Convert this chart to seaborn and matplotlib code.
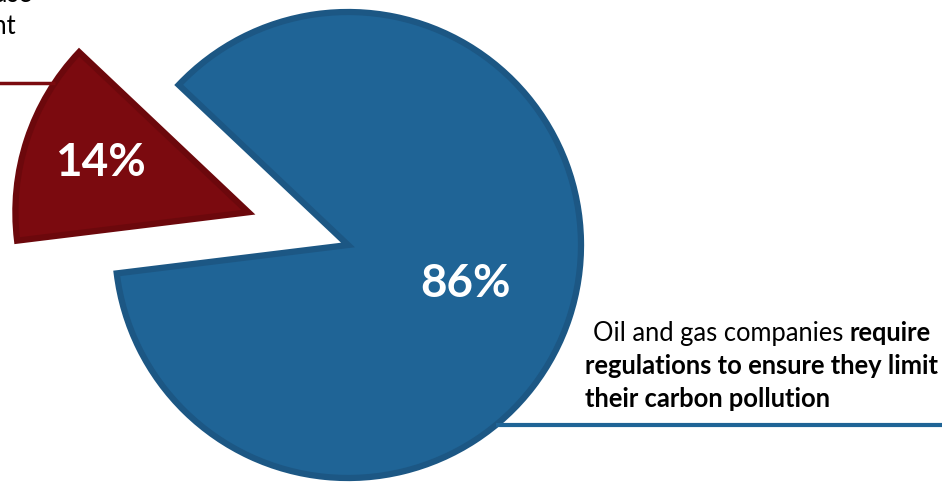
import matplotlib
matplotlib.use("Agg")
import matplotlib.pyplot as plt
import seaborn as sns
import numpy as np

# data
slices = ["Limit on their own", "Require regulations"]
shares = [14, 86]
pct_labels = ["14%", "86%"]
fills = ["#7b0a0f", "#1f6496"]
edges = ["#6c080c", "#1c5784"]

sns.set_theme(style="white")
plt.rcParams['font.family'] = ['Lato', 'DejaVu Sans']

fig = plt.figure(figsize=(9.42, 4.86), dpi=100)
ax = fig.add_axes([0, 0, 1, 1])

wedges, _ = ax.pie(shares, explode=[0.45, 0], startangle=136.6, colors=fills,
                   radius=1, counterclock=True,
                   wedgeprops=dict(linewidth=4.5))
for w, ec in zip(wedges, edges):
    w.set_edgecolor(ec)

# crop like the original graphic
ax.set_xlim(-348 / 233, (942 - 348) / 233)
ax.set_ylim(-(486 - 245) / 233, 245 / 233)
ax.set_aspect('equal')
ax.axis('off')

# percent labels
for w, txt, d in zip(wedges, pct_labels, [0.67, 0.53]):
    ang = np.deg2rad((w.theta1 + w.theta2) / 2)
    cx, cy = w.center
    ax.text(cx + d * np.cos(ang), cy + d * np.sin(ang), txt, color='white',
            fontsize=33, fontweight='bold', ha='center', va='center')

# leader lines
def edge_point(w, deg):
    cx, cy = w.center
    a = np.deg2rad(deg)
    return cx + w.r * np.cos(a), cy + w.r * np.sin(a)

bx, by = edge_point(wedges[1], -50.5)
ax.plot([bx, 3.0], [by, by], color=fills[1], lw=3, solid_capstyle='butt')
rx, ry = edge_point(wedges[0], 146.3)
ax.plot([rx, -2.0], [ry, ry], color=fills[0], lw=2.5, solid_capstyle='butt')

# right annotation, mixed weight
fs = 18.4
step = 0.142
x0, y0 = 1.052, -0.378
t1 = ax.text(x0, y0, "Oil and gas companies ", fontsize=fs, ha='left', va='center', color='black')
fig.canvas.draw()
bb = t1.get_window_extent(fig.canvas.get_renderer())
x1 = ax.transData.inverted().transform((bb.x1, bb.y0))[0]
ax.text(x1, y0, "require", fontsize=fs, fontweight='bold', ha='left', va='center', color='black')
ax.text(x0 - 0.035, y0 - step, "regulations to ensure they limit", fontsize=fs,
        fontweight='bold', ha='left', va='center', color='black')
ax.text(x0 - 0.035, y0 - 2 * step, "their carbon pollution", fontsize=fs,
        fontweight='bold', ha='left', va='center', color='black')

# left annotation (mostly outside the crop)
ax.text(-1.356, 1.073, "Oil and gas companies can limit their pollution because",
        fontsize=fs, ha='right', va='center', color='black')
ax.text(-1.425, 0.936, "they care about the environment",
        fontsize=fs, ha='right', va='center', color='black')

fig.savefig("out.png", dpi=100, facecolor='white')
